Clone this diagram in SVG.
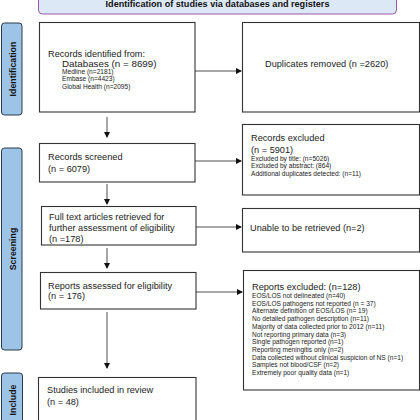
<svg xmlns="http://www.w3.org/2000/svg" width="420" height="420" viewBox="0 0 420 420">
<defs>
<marker id="ah" markerWidth="6" markerHeight="6" refX="5" refY="3" orient="auto" markerUnits="userSpaceOnUse"><path d="M0,0 L6,3 L0,6 z" fill="#111"/></marker>
<style>
.box{fill:#fff;stroke:#333;stroke-width:1.1}
.tab{fill:#9dc3e6;stroke:#2b3a4a;stroke-width:1}
.t{font-family:"Liberation Sans",Arial,sans-serif;fill:#222}
.m{font-size:9.2px}
.l{font-size:9.8px}
.s{font-size:6.6px}
.tl{font-family:"Liberation Sans",Arial,sans-serif;font-weight:bold;font-size:9.1px;fill:#111}
.tb{font-family:"Liberation Sans",Arial,sans-serif;font-weight:bold;font-size:8.8px;fill:#111}
.c{stroke:#222;stroke-width:0.8;fill:none}
</style>
</defs>
<rect width="420" height="420" fill="#fff"/>
<g id="banner">
<rect x="38.5" y="-6" width="358" height="20" rx="4" fill="#dde8f6" stroke="#9b59a6" stroke-width="1"/>
<text class="tl" x="217.5" y="7" text-anchor="middle">Identification of studies via databases and registers</text>
</g>
<g id="tab-identification">
<rect class="tab" x="1.5" y="23" width="20.5" height="92" rx="3"/>
<text class="tb" transform="translate(15.5,69) rotate(-90)" text-anchor="middle">Identification</text>
</g>
<g id="tab-screening">
<rect class="tab" x="1.5" y="148" width="20.5" height="202" rx="3"/>
<text class="tb" transform="translate(15.5,249) rotate(-90)" text-anchor="middle">Screening</text>
</g>
<g id="tab-include">
<rect class="tab" x="1.5" y="373" width="21" height="60" rx="3"/>
<text class="tb" transform="translate(16,400) rotate(-90)" text-anchor="middle">Include</text>
</g>
<g id="records-identified">
<rect class="box" x="39.5" y="22.5" width="155.5" height="89.5"/>
<text class="t m" x="48" y="57">Records identified from:</text>
<text class="t l" x="62" y="66.5">Databases (n = 8699)</text>
<text class="t s" x="62" y="73.5">Medline (n=2181)</text>
<text class="t s" x="62" y="81">Embase (n=4423)</text>
<text class="t s" x="62" y="89">Global Health (n=2095)</text>
</g>
<g id="duplicates">
<rect class="box" x="242.5" y="22.5" width="177" height="89.5"/>
<text class="t m" x="265" y="67">Duplicates removed (n =2620)</text>
</g>
<g id="records-excluded">
<rect class="box" x="242.5" y="124.5" width="177" height="70.5"/>
<text class="t m" x="251" y="140.5">Records excluded</text>
<text class="t m" x="251" y="153">(n = 5901)</text>
<text class="t s" x="251" y="160.5">Excluded by title: (n=5026)</text>
<text class="t s" x="251" y="167.5">Excluded by abstract: (864)</text>
<text class="t s" x="251" y="175.5">Additional duplicates detected: (n=11)</text>
</g>
<g id="records-screened">
<rect class="box" x="39.5" y="143.5" width="155.5" height="38.5"/>
<text class="t m" x="48" y="160">Records screened</text>
<text class="t m" x="48" y="171.5">(n = 6079)</text>
</g>
<g id="full-text">
<rect class="box" x="41.5" y="206.5" width="154.5" height="38.5"/>
<text class="t m" x="49" y="220">Full text articles retrieved for</text>
<text class="t m" x="49" y="230.5">further assessment of eligibility</text>
<text class="t m" x="49" y="241.5">(n =178)</text>
</g>
<g id="unable">
<rect class="box" x="242.5" y="208.5" width="177" height="43.5"/>
<text class="t m" x="250" y="230.5">Unable to be retrieved (n=2)</text>
</g>
<g id="reports-assessed">
<rect class="box" x="40.5" y="272.5" width="155.5" height="36.5"/>
<text class="t m" x="48" y="289.3">Reports assessed for eligibility</text>
<text class="t m" x="48" y="299.3">(n = 176)</text>
</g>
<g id="reports-excluded">
<rect class="box" x="243.5" y="270.5" width="176" height="119.5"/>
<text class="t m" x="252" y="290">Reports excluded: (n=128)</text>
<text class="t s" x="252" y="298">EOS/LOS not delineated (n=40)</text>
<text class="t s" x="252" y="305.7">EOS/LOS pathogens not reported (n = 37)</text>
<text class="t s" x="252" y="313.4">Alternate definition of EOS/LOS (n= 19)</text>
<text class="t s" x="252" y="321.1">No detailed pathogen description (n=11)</text>
<text class="t s" x="252" y="328.8">Majority of data collected prior to 2012 (n=11)</text>
<text class="t s" x="252" y="336.5">Not reporting primary data (n=3)</text>
<text class="t s" x="252" y="344.2">Single pathogen reported (n=1)</text>
<text class="t s" x="252" y="351.9">Reporting meningitis only (n=2)</text>
<text class="t s" x="252" y="359.6">Data collected without clinical suspicion of NS (n=1)</text>
<text class="t s" x="252" y="367.3">Samples not blood/CSF (n=2)</text>
<text class="t s" x="252" y="375">Extremely poor quality data (n=1)</text>
</g>
<g id="studies-included">
<rect class="box" x="38.5" y="377.5" width="157.5" height="60"/>
<text class="t m" x="47" y="393.3">Studies included in review</text>
<text class="t m" x="47" y="405">(n = 48)</text>
</g>
<g id="connectors">
<line class="c" x1="195" y1="71" x2="241" y2="71" marker-end="url(#ah)"/>
<line class="c" x1="195" y1="161" x2="241" y2="161" marker-end="url(#ah)"/>
<line class="c" x1="196" y1="227" x2="241" y2="227" marker-end="url(#ah)"/>
<line class="c" x1="196" y1="292" x2="242" y2="292" marker-end="url(#ah)"/>
<line class="c" x1="107" y1="117" x2="107" y2="137" marker-end="url(#ah)"/>
<line class="c" x1="107" y1="184" x2="107" y2="204" marker-end="url(#ah)"/>
<line class="c" x1="107" y1="248" x2="107" y2="268" marker-end="url(#ah)"/>
<line class="c" x1="107" y1="312" x2="107" y2="368" marker-end="url(#ah)"/>
</g>
</svg>
